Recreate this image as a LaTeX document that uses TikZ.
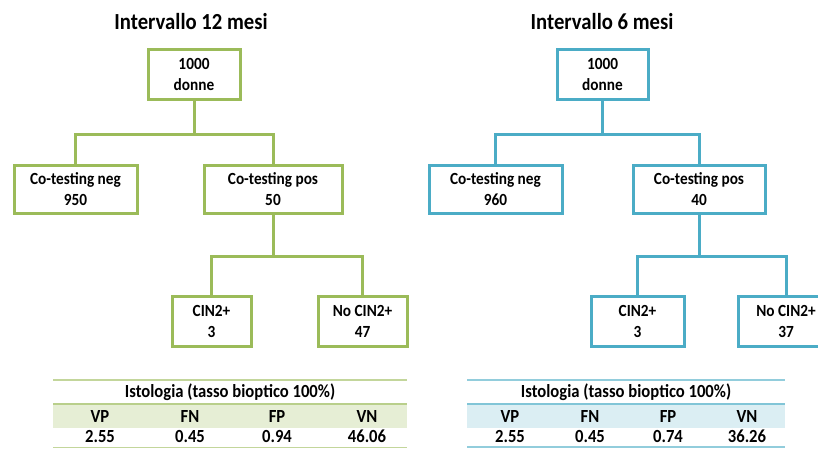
\documentclass[tikz,border=0pt]{standalone}
\usepackage{fontspec}
\setmainfont{Carlito}[FakeStretch=0.9]
\definecolor{olive}{HTML}{9BBB59}
\definecolor{olivefill}{HTML}{E6EED5}
\definecolor{oliveline}{HTML}{C3D69B}
\definecolor{aqua}{HTML}{4BACC6}
\definecolor{aquafill}{HTML}{DBEEF3}
\definecolor{aqualine}{HTML}{92CDDC}
\tikzset{
  title/.style={font=\bfseries\fontsize{23}{26}\selectfont, inner sep=0pt},
  flowbox/.style={draw, line width=3pt, fill=white, align=center, inner sep=0pt,
    font=\bfseries\fontsize{17}{21}\selectfont},
  gbox/.style={flowbox, draw=olive},
  bbox/.style={flowbox, draw=aqua},
  glink/.style={draw=olive, line width=3pt},
  blink/.style={draw=aqua, line width=3pt},
  cell/.style={font=\bfseries\fontsize{18.5}{20}\selectfont, inner sep=0pt, anchor=center},
}
\begin{document}
\begin{tikzpicture}[x=1pt,y=1pt]
\clip (0,0) rectangle (818,-448);
\fill[white] (0,0) rectangle (818,-448);

% ---------- Intervallo 12 mesi ----------
\node[title] (t1) at (191,-22) {Intervallo 12 mesi};
\node[gbox, minimum width=92pt, minimum height=50pt] (a0) at (194,-74) {1000\\donne};
\node[gbox, minimum width=123pt, minimum height=48pt] (a1) at (75.5,-189) {Co-testing neg\\950};
\node[gbox, minimum width=138pt, minimum height=48pt] (a2) at (273,-189) {Co-testing pos\\50};
\node[gbox, minimum width=79pt, minimum height=50pt] (a3) at (211.5,-321) {CIN2+\\3};
\node[gbox, minimum width=89pt, minimum height=50pt] (a4) at (362.5,-321) {No CIN2+\\47};

\draw[glink] (a0.south) -- ++(0,-34) coordinate (ja);
\draw[glink] (a1.north) |- (ja) -| (a2.north);
\draw[glink] (a2.south) -- ++(0,-42) coordinate (jb);
\draw[glink] (a3.north) |- (jb) -| (a4.north);

% histology table
\fill[olivefill] (53,-404) rectangle (407,-428);
\draw[oliveline, line width=1.5pt] (53,-380) -- (407,-380);
\draw[olive!70, line width=1.2pt] (53,-404) -- (407,-404);
\draw[oliveline, line width=1.2pt] (53,-447.5) -- (407,-447.5);
\node[cell] (ah) at (230,-392) {Istologia (tasso bioptico 100\%)};
\node[cell] (avp) at (100,-416) {VP};
\node[cell] (afn) at (190,-416) {FN};
\node[cell] (afp) at (277,-416) {FP};
\node[cell] (avn) at (367,-416) {VN};
\node[cell] (v1) at (100,-436.5) {2.55};
\node[cell] (v2) at (190,-436.5) {0.45};
\node[cell] (v3) at (277,-436.5) {0.94};
\node[cell] (v4) at (367,-436.5) {46.06};

% ---------- Intervallo 6 mesi ----------
\node[title] (t2) at (602,-22) {Intervallo 6 mesi};
\node[bbox, minimum width=91pt, minimum height=50pt] (b0) at (602.5,-74) {1000\\donne};
\node[bbox, minimum width=133pt, minimum height=48pt] (b1) at (495.5,-189) {Co-testing neg\\960};
\node[bbox, minimum width=132pt, minimum height=48pt] (b2) at (699,-189) {Co-testing pos\\40};
\node[bbox, minimum width=93pt, minimum height=50pt] (b3) at (637.5,-321) {CIN2+\\3};
\node[bbox, minimum width=96pt, minimum height=50pt] (b4) at (786,-321) {No CIN2+\\37};

\draw[blink] (b0.south) -- ++(0,-34) coordinate (jc);
\draw[blink] (b1.north) |- (jc) -| (b2.north);
\draw[blink] (b2.south) -- ++(0,-42) coordinate (jd);
\draw[blink] (b3.north) |- (jd) -| (b4.north);

% histology table
\fill[aquafill] (467,-404) rectangle (785,-428);
\draw[aqualine, line width=1.5pt] (467,-380) -- (785,-380);
\draw[aqua!70, line width=1.2pt] (467,-404) -- (785,-404);
\draw[aqualine, line width=1.2pt] (467,-447) -- (785,-447);
\node[cell] (bh) at (626,-392) {Istologia (tasso bioptico 100\%)};
\node[cell] (bvp) at (510,-416) {VP};
\node[cell] (bfn) at (590,-416) {FN};
\node[cell] (bfp) at (668,-416) {FP};
\node[cell] (bvn) at (747,-416) {VN};
\node[cell] (w1) at (510,-436.5) {2.55};
\node[cell] (w2) at (590,-436.5) {0.45};
\node[cell] (w3) at (668,-436.5) {0.74};
\node[cell] (w4) at (747,-436.5) {36.26};
\end{tikzpicture}
\end{document}
